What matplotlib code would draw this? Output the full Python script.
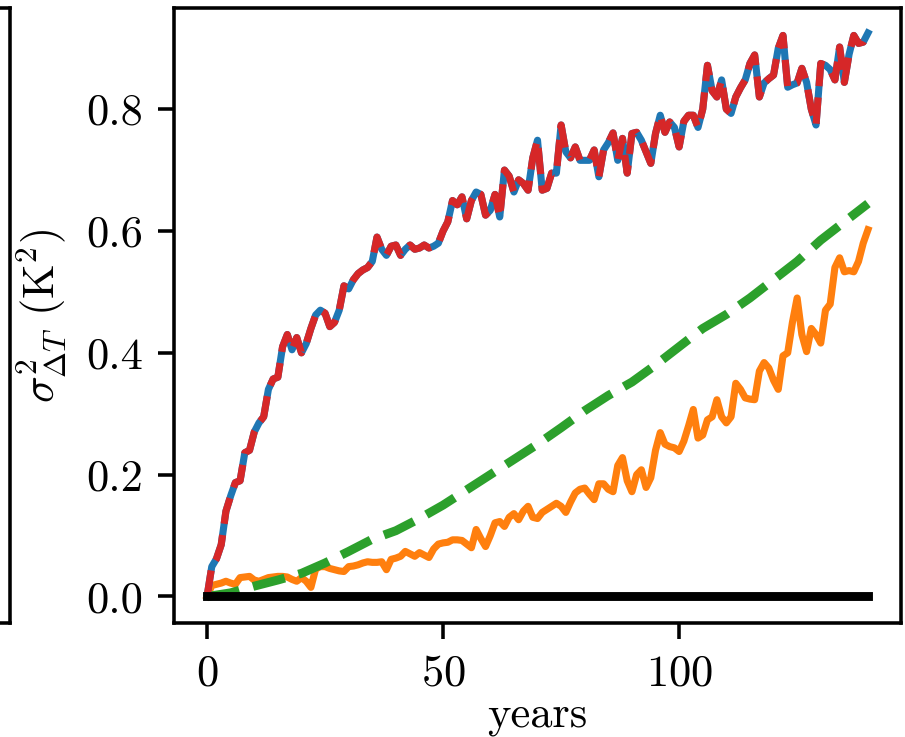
import numpy as np
import matplotlib
matplotlib.use("Agg")
import matplotlib.pyplot as plt

plt.rcParams['font.family'] = 'serif'
plt.rcParams['font.serif'] = ['cmr10']
plt.rcParams['mathtext.fontset'] = 'cm'
plt.rcParams['axes.formatter.use_mathtext'] = True

years = np.arange(0, 141)

# variance of the full ensemble (blue) and its reconstruction (red, dashed)
var_full = [
    0.0, 0.049, 0.062, 0.085, 0.14, 0.165, 0.187, 0.19, 0.236, 0.24,
    0.27, 0.285, 0.295, 0.34, 0.357, 0.36, 0.41, 0.43, 0.405, 0.425,
    0.40, 0.415, 0.44, 0.462, 0.47, 0.465, 0.443, 0.45, 0.47, 0.51,
    0.505, 0.52, 0.53, 0.536, 0.54, 0.55, 0.59, 0.57, 0.56, 0.575,
    0.577, 0.56, 0.57, 0.577, 0.57, 0.572, 0.577, 0.572, 0.575, 0.58,
    0.60, 0.615, 0.65, 0.643, 0.656, 0.62, 0.65, 0.664, 0.66, 0.626,
    0.634, 0.66, 0.623, 0.70, 0.69, 0.664, 0.684, 0.678, 0.667, 0.72,
    0.749, 0.667, 0.67, 0.695, 0.695, 0.774, 0.73, 0.72, 0.738, 0.716,
    0.716, 0.716, 0.733, 0.689, 0.733, 0.745, 0.761, 0.716, 0.752, 0.695,
    0.76, 0.762, 0.749, 0.73, 0.711, 0.76, 0.79, 0.762, 0.779, 0.770,
    0.738, 0.78, 0.79, 0.79, 0.770, 0.80, 0.872, 0.83, 0.82, 0.848,
    0.80, 0.793, 0.82, 0.835, 0.848, 0.875, 0.889, 0.82, 0.843, 0.85,
    0.856, 0.90, 0.921, 0.836, 0.84, 0.843, 0.867, 0.844, 0.80, 0.774,
    0.875, 0.872, 0.865, 0.848, 0.902, 0.844, 0.89, 0.921, 0.908, 0.91,
    0.925,
]
var_recon = list(var_full)

var_forced = [
    0.0, 0.018, 0.02, 0.022, 0.025, 0.022, 0.02, 0.031, 0.032, 0.033,
    0.027, 0.025, 0.028, 0.031, 0.032, 0.033, 0.033, 0.032, 0.028, 0.025,
    0.031, 0.025, 0.015, 0.045, 0.049, 0.049, 0.046, 0.044, 0.042, 0.041,
    0.049, 0.05, 0.052, 0.055, 0.057, 0.056, 0.056, 0.057, 0.044, 0.061,
    0.063, 0.066, 0.074, 0.07, 0.066, 0.072, 0.068, 0.064, 0.078, 0.086,
    0.088, 0.089, 0.093, 0.093, 0.092, 0.086, 0.08, 0.11, 0.095, 0.082,
    0.1, 0.121, 0.123, 0.115, 0.13, 0.136, 0.126, 0.14, 0.148, 0.13,
    0.128, 0.138, 0.143, 0.148, 0.153, 0.148, 0.138, 0.155, 0.17, 0.176,
    0.178, 0.168, 0.159, 0.185, 0.185, 0.176, 0.172, 0.215, 0.228, 0.19,
    0.172, 0.2, 0.208, 0.179, 0.195, 0.24, 0.269, 0.25, 0.246, 0.244,
    0.238, 0.255, 0.28, 0.307, 0.26, 0.265, 0.29, 0.295, 0.323, 0.295,
    0.285, 0.295, 0.35, 0.34, 0.326, 0.324, 0.323, 0.37, 0.384, 0.375,
    0.355, 0.34, 0.395, 0.40, 0.45, 0.49, 0.43, 0.402, 0.44, 0.43,
    0.416, 0.47, 0.48, 0.54, 0.556, 0.533, 0.535, 0.533, 0.55, 0.58,
    0.602,
]

years_theory = np.arange(0, 141, 5)
var_theory = [
    0.0, 0.006, 0.017, 0.027, 0.038, 0.055, 0.074, 0.094, 0.108, 0.128,
    0.15, 0.175, 0.20, 0.225, 0.25, 0.277, 0.305, 0.33, 0.352, 0.38,
    0.41, 0.44, 0.463, 0.49, 0.52, 0.55, 0.585, 0.615, 0.645,
]

var_zero = np.zeros(len(years))

fig = plt.figure(figsize=(905 / 320, 737 / 320), dpi=320)

# neighbouring panel, mostly outside the crop
ax0 = fig.add_axes([-0.5, 0.1547, 0.5 + 10 / 905, 0.9891 - 0.1547])
ax0.set_xticks([])
ax0.set_yticks([])

ax = fig.add_axes([174 / 905, 0.1547, 727 / 905, 0.9891 - 0.1547])
ax.plot(years, var_forced, color='tab:orange', lw=1.6)
ax.plot(years_theory, var_theory, color='tab:green', lw=2, ls='--')
ax.plot(years, var_full, color='tab:blue', lw=1.6)
ax.plot(years, var_recon, color='tab:red', lw=1.6, ls='--')
ax.plot(years, var_zero, color='black', lw=2)

ax.set_xlim(-7, 147)
ax.set_ylim(-0.0435, 0.966)
ax.set_xticks([0, 50, 100])
ax.set_yticks([0.0, 0.2, 0.4, 0.6, 0.8])
ax.set_yticklabels(['0.0', '0.2', '0.4', '0.6', '0.8'])
ax.set_xlabel('years', labelpad=0.3)
ax.set_ylabel(r'$\sigma^2_{\Delta T}$ ($\mathrm{K}^2$)')

fig.savefig('out.png', dpi=320)
